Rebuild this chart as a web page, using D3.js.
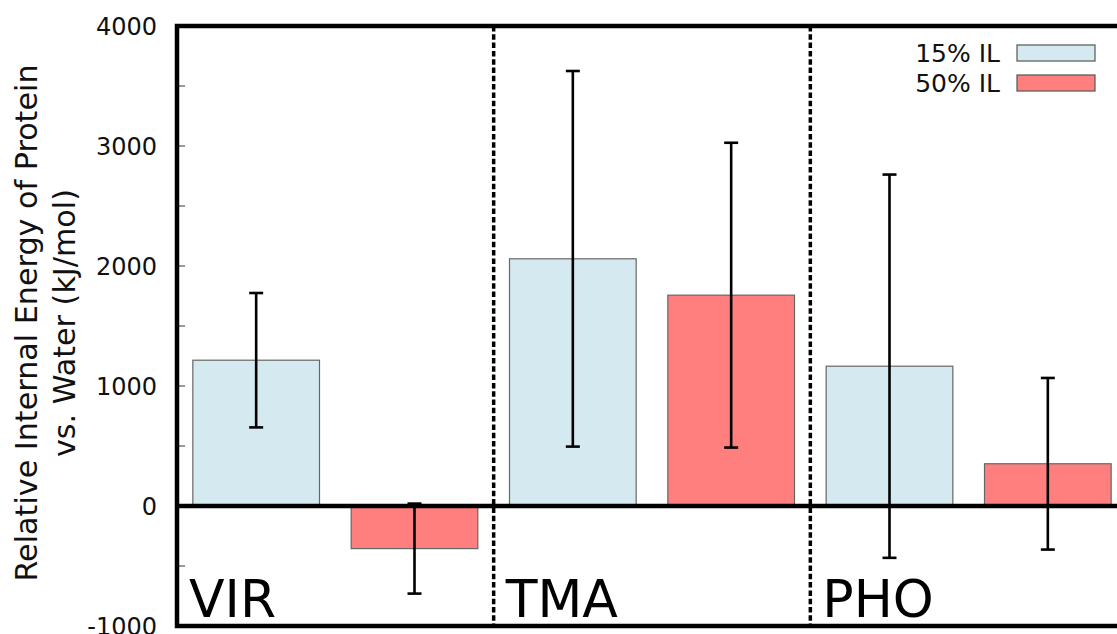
<!DOCTYPE html>
<html>
<head>
<meta charset="utf-8">
<script src="https://cdn.jsdelivr.net/npm/d3@7"></script>
<style>
  html, body { margin: 0; padding: 0; background: #fff; }
  svg { display: block; font-family: "DejaVu Sans", sans-serif; }
</style>
</head>
<body>
<svg id="chart" width="1117" height="634"></svg>
<script>
// ---- data ----
const categories = ["VIR", "TMA", "PHO"];
const seriesNames = ["15% IL", "50% IL"];
const seriesColors = ["#d4eaf0", "#ff7f7f"];
const il15 = [1215, 2060, 1165];
const il15Err = [560, 1565, 1597];
const il50 = [-355, 1757, 352];
const il50Err = [375, 1270, 715];
const yTicks = [-1000, 0, 1000, 2000, 3000, 4000];
const yMinorTicks = [-1000, -500, 0, 500, 1000, 1500, 2000, 2500, 3000, 3500, 4000];
const yTitleLines = ["Relative Internal Energy of Protein", "vs. Water (kJ/mol)"];

const values = [il15, il50];
const errors = [il15Err, il50Err];

// ---- layout ----
const pLeft = 177, pRight = 1127, pTop = 26, pBottom = 626;
const svg = d3.select("#chart");

const y = d3.scaleLinear().domain([-1000, 4000]).range([pBottom, pTop]);
const x0 = d3.scaleBand().domain(categories).range([pLeft, pRight]).padding(0);
const x1 = d3.scaleBand().domain(seriesNames).range([0, x0.bandwidth()])
  .paddingInner(0.2).paddingOuter(0.1);

// ticks (left and right, pointing inward)
const tickLen = 8;
const tg = svg.append("g");
yMinorTicks.forEach(v => {
  tg.append("line").attr("x1", pLeft).attr("x2", pLeft + tickLen)
    .attr("y1", y(v)).attr("y2", y(v)).attr("stroke", "#555").attr("stroke-width", 1.2);
  tg.append("line").attr("x1", pRight - tickLen).attr("x2", pRight)
    .attr("y1", y(v)).attr("y2", y(v)).attr("stroke", "#555").attr("stroke-width", 1.2);
});

// tick labels
svg.append("g").selectAll("text").data(yTicks).join("text")
  .attr("x", 157).attr("y", d => y(d)).attr("dy", "0.36em")
  .attr("text-anchor", "end").attr("font-size", 24).attr("fill", "#111")
  .text(d => d);

// y title
yTitleLines.forEach((t, i) => {
  svg.append("text")
    .attr("transform", `translate(${37 + i * 38},${(pTop + pBottom) / 2 - 3}) rotate(-90)`)
    .attr("text-anchor", "middle").attr("font-size", 30.2).attr("fill", "#111")
    .text(t);
});

// bars
const gBars = svg.append("g");
categories.forEach((c, ci) => {
  seriesNames.forEach((s, si) => {
    const v = values[si][ci];
    gBars.append("rect")
      .attr("x", x0(c) + x1(s))
      .attr("y", y(Math.max(0, v)))
      .attr("width", x1.bandwidth())
      .attr("height", Math.abs(y(v) - y(0)))
      .attr("fill", seriesColors[si])
      .attr("stroke", "#666").attr("stroke-width", 1.2);
  });
});

// zero line
svg.append("line").attr("x1", pLeft).attr("x2", pRight)
  .attr("y1", y(0)).attr("y2", y(0)).attr("stroke", "#000").attr("stroke-width", 4.5);

// error bars
const gErr = svg.append("g").attr("stroke", "#000").attr("stroke-width", 2.6);
const capW = 7;
categories.forEach((c, ci) => {
  seriesNames.forEach((s, si) => {
    const v = values[si][ci], e = errors[si][ci];
    const cx = x0(c) + x1(s) + x1.bandwidth() / 2;
    gErr.append("line").attr("x1", cx).attr("x2", cx).attr("y1", y(v + e)).attr("y2", y(v - e));
    gErr.append("line").attr("x1", cx - capW).attr("x2", cx + capW).attr("y1", y(v + e)).attr("y2", y(v + e));
    gErr.append("line").attr("x1", cx - capW).attr("x2", cx + capW).attr("y1", y(v - e)).attr("y2", y(v - e));
  });
});

// dashed separators
categories.slice(1).forEach(c => {
  svg.append("line").attr("x1", x0(c)).attr("x2", x0(c))
    .attr("y1", pTop).attr("y2", pBottom)
    .attr("stroke", "#000").attr("stroke-width", 3.5).attr("stroke-dasharray", "5.5,2.8");
});

// frame
svg.append("rect").attr("x", pLeft).attr("y", pTop)
  .attr("width", pRight - pLeft).attr("height", pBottom - pTop)
  .attr("fill", "none").attr("stroke", "#000").attr("stroke-width", 4.5);

// group labels
svg.append("g").selectAll("text").data(categories).join("text")
  .attr("x", d => x0(d) + 12).attr("y", 617)
  .attr("font-size", 52).attr("fill", "#000")
  .text(d => d);

// legend
const lg = svg.append("g");
seriesNames.forEach((s, i) => {
  const ly = 53 + i * 30;
  lg.append("text").attr("x", 1000).attr("y", ly).attr("dy", "0.36em")
    .attr("text-anchor", "end").attr("font-size", 25).attr("fill", "#111").text(s);
  lg.append("rect").attr("x", 1017).attr("y", ly - 8).attr("width", 78).attr("height", 16)
    .attr("fill", seriesColors[i]).attr("stroke", "#555").attr("stroke-width", 1.2);
});
</script>
</body>
</html>
